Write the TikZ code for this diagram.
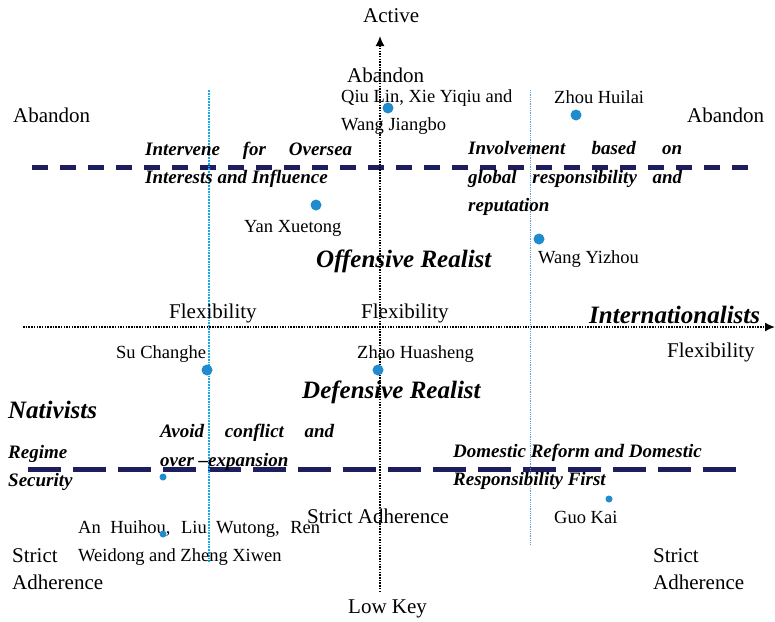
\documentclass[tikz,border=0pt]{standalone}
\usepackage{fontspec}
\setmainfont{Liberation Serif}
\usetikzlibrary{arrows.meta}
\definecolor{dotblue}{RGB}{32,140,205}
\definecolor{navyband}{RGB}{30,30,95}
\definecolor{linebluea}{RGB}{20,170,235}
\definecolor{lineblueb}{RGB}{90,160,215}
\begin{document}
\begin{tikzpicture}[x=1pt,y=-1pt,
  person/.style={inner sep=0pt, anchor=base west, font=\fontsize{18.5}{18.5}\selectfont},
  big/.style={inner sep=0pt, anchor=base west, font=\fontsize{21}{21}\selectfont},
  head/.style={inner sep=0pt, anchor=base west, font=\fontsize{25}{25}\selectfont\bfseries\itshape},
  note/.style={inner sep=0pt, anchor=base west, font=\fontsize{19}{19}\selectfont\bfseries\itshape},
  bigdot/.style={circle, fill=dotblue, inner sep=0pt, minimum size=11pt},
  smalldot/.style={circle, fill=dotblue, inner sep=0pt, minimum size=7pt},
  axisline/.style={line width=1.6pt, dash pattern=on 1.5pt off 1.2pt, -{Latex[length=10pt,width=9pt]}},
  bandtop/.style={draw=navyband, line width=5pt, dash pattern=on 16pt off 12pt},
  bandbot/.style={draw=navyband, line width=5pt, dash pattern=on 33pt off 12pt},
  vleft/.style={draw=linebluea, line width=2pt, dash pattern=on 1.8pt off 1pt},
  vright/.style={draw=lineblueb, line width=1pt, dash pattern=on 1pt off 0.8pt}
]
\useasboundingbox (0,0) rectangle (775,621);

% coordinates
\coordinate (t1) at (32,167); \coordinate (t2) at (752,167);
\coordinate (b1) at (28,469); \coordinate (b2) at (740,469);
\coordinate (l1) at (209,90); \coordinate (l2) at (209,562);
\coordinate (r1) at (530,90); \coordinate (r2) at (530,545);
\coordinate (ybot) at (380,592); \coordinate (ytop) at (380,36);
\coordinate (xl) at (23,327); \coordinate (xr) at (775,327);

% lines
\draw[bandtop] (t1) -- (t2);
\draw[bandbot] (b1) -- (b2);
\draw[vleft] (l1) -- (l2);
\draw[vright] (r1) -- (r2);
\draw[axisline] (ybot) -- (ytop);
\draw[axisline] (xl) -- (xr);

% axis labels
\node[big] (active) at (363,22) {Active};
\node[big] (lowkey) at (348,613) {Low Key};
\node[head] (intl) at (589,323) {Internationalists};
\node[head] (nat) at (8,418) {Nativists};
\node[head] (off) at (316,267) {Offensive Realist};
\node[head] (def) at (302,398) {Defensive Realist};

% Abandon / Flexibility / Strict Adherence
\node[big] (abtop) at (347,82) {Abandon};
\node[big] (ableft) at (13,122) {Abandon};
\node[big] (abright) at (687,122) {Abandon};
\node[big] (flexl) at (169,318) {Flexibility};
\node[big] (flexc) at (361,318) {Flexibility};
\node[big] (flexr) at (667,357) {Flexibility};
\node[big] (stc) at (307,523) {Strict Adherence};
\node[big] (stl1) at (12,562) {Strict};
\node[big] (stl2) at (12,589) {Adherence};
\node[big] (str1) at (653,562) {Strict};
\node[big] (str2) at (653,589) {Adherence};

% notes
\node[note] (iv1) at (145,155) {\makebox[207pt][s]{Intervene for Oversea}};
\node[note] (iv2) at (145,183) {Interests and Influence};
\node[note] (in1) at (468,154) {\makebox[214pt][s]{Involvement based on}};
\node[note] (in2) at (468,183) {\makebox[214pt][s]{global responsibility and}};
\node[note] (in3) at (468,211) {reputation};
\node[note] (av1) at (160,437) {\makebox[174pt][s]{Avoid conflict and}};
\node[note] (av2) at (160,466) {over –expansion};
\node[note] (rg1) at (8,458) {Regime};
\node[note] (rg2) at (8,486) {Security};
\node[note] (dm1) at (453,457) {Domestic Reform and Domestic};
\node[note] (dm2) at (453,485) {Responsibility First};

% names
\node[person] (qiu1) at (341,102) {Qiu Lin, Xie Yiqiu and};
\node[person] (qiu2) at (341,130) {Wang Jiangbo};
\node[person] (zhou) at (554,103) {Zhou Huilai};
\node[person] (yan) at (244,232) {Yan Xuetong};
\node[person] (wang) at (538,263) {Wang Yizhou};
\node[person] (su) at (116,358) {Su Changhe};
\node[person] (zhao) at (357,358) {Zhao Huasheng};
\node[person] (guo) at (554,523) {Guo Kai};
\node[person] (an1) at (78,533) {\makebox[242pt][s]{An Huihou, Liu Wutong, Ren}};
\node[person] (an2) at (78,561) {Weidong and Zheng Xiwen};

% dots
\node[bigdot] (dqiu) at (388,108) {};
\node[bigdot] (dzhou) at (576,115) {};
\node[bigdot] (dyan) at (316,205) {};
\node[bigdot] (dwang) at (539,239) {};
\node[bigdot] (dsu) at (207,370) {};
\node[bigdot] (dzhao) at (378,370) {};
\node[smalldot] (dreg) at (163,477) {};
\node[smalldot] (dan) at (163,534) {};
\node[smalldot] (dguo) at (609,499) {};
\end{tikzpicture}
\end{document}
